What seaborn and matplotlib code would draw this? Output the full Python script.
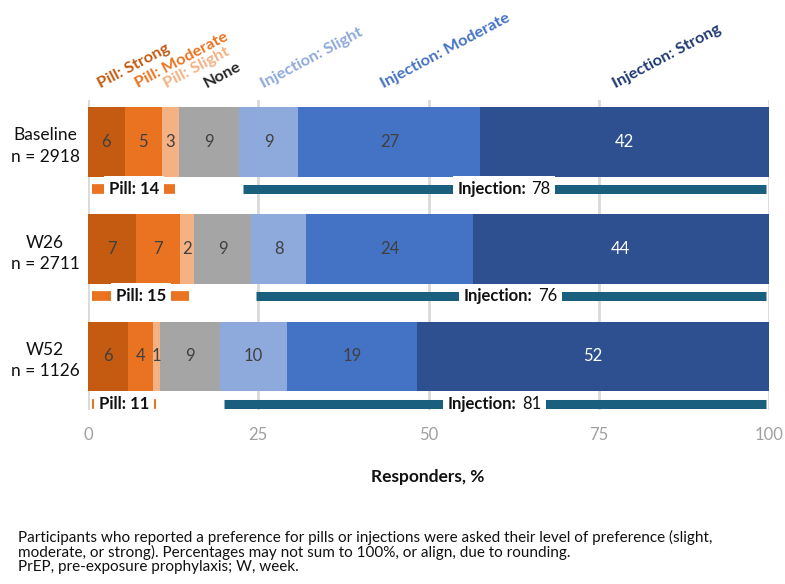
import matplotlib
matplotlib.use("Agg")
import matplotlib.pyplot as plt
from matplotlib import font_manager
from matplotlib.offsetbox import TextArea, HPacker, AnnotationBbox
import numpy as np
import pandas as pd
import seaborn as sns

# ---------------- data ----------------
categories = ["Baseline\nn = 2918", "W26\nn = 2711", "W52\nn = 1126"]
segment_names = ["Pill: Strong", "Pill: Moderate", "Pill: Slight", "None",
                 "Injection: Slight", "Injection: Moderate", "Injection: Strong"]

pill_strong = [5.4, 7.0, 5.9]
pill_moderate = [5.4, 6.55, 3.6]
pill_slight = [2.6, 1.95, 1.1]
no_pref = [8.8, 8.5, 8.8]
inj_slight = [8.7, 8.0, 9.8]
inj_moderate = [26.7, 24.5, 19.1]
inj_strong = [42.4, 43.5, 51.7]

lab_pill_strong = [6, 7, 6]
lab_pill_moderate = [5, 7, 4]
lab_pill_slight = [3, 2, 1]
lab_none = [9, 9, 9]
lab_inj_slight = [9, 8, 10]
lab_inj_moderate = [27, 24, 19]
lab_inj_strong = [42, 44, 52]

pill_total = [14, 15, 11]
inj_total = [78, 76, 81]

x_ticks = [0, 25, 50, 75, 100]

# ---------------- style ----------------
seg_colors = ["#C55A11", "#E97320", "#F4B183", "#A5A5A5",
              "#8EA9DB", "#4472C4", "#2F5090"]
name_colors = ["#C55A11", "#E97320", "#F4B183", "#262626",
               "#8EA9DB", "#4472C4", "#1F3A73"]
num_colors = ["#404040"] * 6 + ["white"]
name_x = [2.0, 7.6, 11.7, 17.6, 26.0, 43.6, 77.7]

sns.set_theme(style="white")
avail = {f.name for f in font_manager.fontManager.ttflist}
main_font = "Lato" if "Lato" in avail else "DejaVu Sans"
plt.rcParams["font.family"] = [main_font, "DejaVu Sans"]

fig = plt.figure(figsize=(7.85, 5.84), dpi=100)
ax = fig.add_axes([88 / 785, 1 - 410 / 584, (769 - 88) / 785, 310 / 584])

segs = np.array([pill_strong, pill_moderate, pill_slight, no_pref,
                 inj_slight, inj_moderate, inj_strong]).T  # rows x segs
labs = np.array([lab_pill_strong, lab_pill_moderate, lab_pill_slight, lab_none,
                 lab_inj_slight, lab_inj_moderate, lab_inj_strong]).T
cum = np.cumsum(segs, axis=1)

df = pd.DataFrame(cum, columns=segment_names)
df["cat"] = categories

for k in range(len(segment_names) - 1, -1, -1):
    sns.barplot(data=df, x=segment_names[k], y="cat", orient="h",
                color=seg_colors[k], saturation=1, width=0.65,
                linewidth=0, ax=ax, zorder=2)

# segment value labels
for i in range(len(categories)):
    for k in range(len(segment_names)):
        left = cum[i, k] - segs[i, k]
        ax.text(left + segs[i, k] / 2, i, str(labs[i, k]), ha="center",
                va="center", fontsize=12, color=num_colors[k], zorder=4)

# brackets under bars
yb = 0.44
for i in range(len(categories)):
    p_end = cum[i, 2]
    i_start = cum[i, 3]
    i_end = cum[i, 6]
    ax.plot([0.6, p_end - 0.6], [i + yb, i + yb], color="#E97320", lw=7,
            solid_capstyle="butt", zorder=3, clip_on=False)
    ax.text(p_end / 2, i + yb, f"Pill: {pill_total[i]}", ha="center",
            va="center", fontsize=12, fontweight="bold", color="#111111",
            zorder=4, bbox=dict(boxstyle="square,pad=0.3", fc="white", ec="none"))
    ax.plot([i_start + 0.6, i_end - 0.5], [i + yb, i + yb], color="#1A5F7E",
            lw=6.5, solid_capstyle="butt", zorder=3, clip_on=False)
    t1 = TextArea("Injection:", textprops=dict(fontsize=12, fontweight="bold",
                                                 color="#111111"))
    t2 = TextArea(f"{inj_total[i]}", textprops=dict(fontsize=12,
                                                      color="#111111"))
    pack = HPacker(children=[t1, t2], align="baseline", pad=0, sep=4)
    ab = AnnotationBbox(pack, ((i_start + i_end) / 2, i + yb), xycoords="data",
                        frameon=True, pad=0.3, zorder=4,
                        bboxprops=dict(fc="white", ec="none", boxstyle="square,pad=0.3"))
    ax.add_artist(ab)

# rotated segment names
for k, name in enumerate(segment_names):
    ax.text(name_x[k], 1.03, name, transform=ax.get_xaxis_transform(),
            rotation=28, rotation_mode="anchor", ha="left", va="bottom",
            fontsize=11.8, fontweight="bold", color=name_colors[k])

ax.set_xlim(0, 100)
ax.set_ylim(2.5, -0.39)
ax.set_xticks(x_ticks)
ax.set_xticklabels([str(t) for t in x_ticks], color="#A0A0A0", fontsize=12)
ax.tick_params(axis="x", length=0, pad=12)
ax.tick_params(axis="y", length=0, pad=6, labelsize=12.5, labelcolor="#111111")
for t in ax.get_yticklabels():
    t.set_multialignment("center")
    t.set_linespacing(1.4)
ax.set_xlabel("")
ax.set_ylabel("")
ax.grid(axis="x", color="#D9D9D9", lw=2)
ax.grid(axis="y", visible=False)
ax.set_axisbelow(True)
for s in ax.spines.values():
    s.set_visible(False)

fig.text(428 / 785, 1 - 477 / 584, "Responders, %", ha="center", va="center",
         fontsize=12.5, fontweight="bold", color="#111111")

foot = ["Participants who reported a preference for pills or injections were asked their level of preference (slight,",
        "moderate, or strong). Percentages may not sum to 100%, or align, due to rounding.",
        "PrEP, pre-exposure prophylaxis; W, week."]
for j, line in enumerate(foot):
    fig.text(18 / 785, 1 - (537 + 15 * j) / 584, line, ha="left", va="center",
             fontsize=11, color="#111111")

fig.savefig("out.png", dpi=100, facecolor="white")
